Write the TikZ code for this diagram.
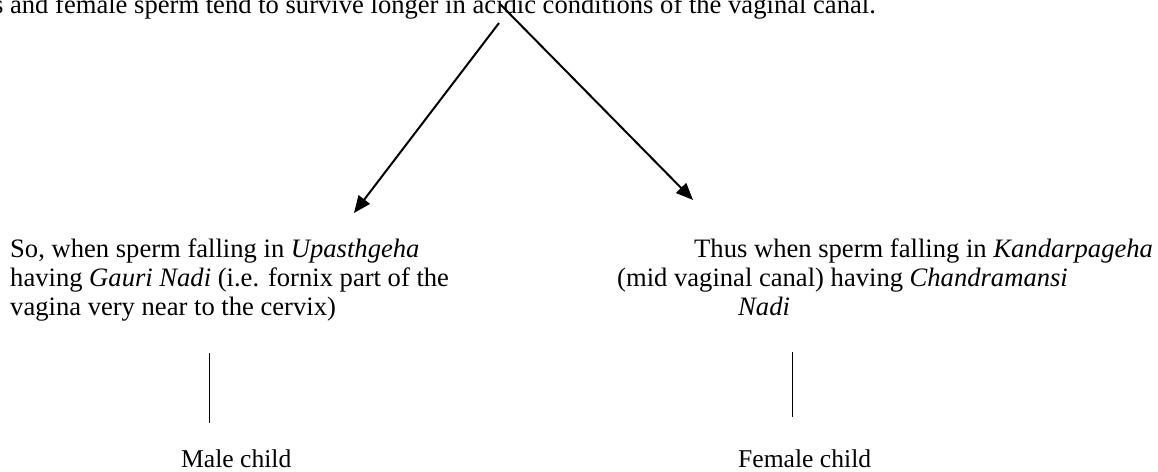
\documentclass[tikz,border=0pt]{standalone}
\usepackage{fontspec}
\setmainfont{Liberation Serif}
\usetikzlibrary{arrows.meta}
\tikzset{
  txt/.style={inner sep=0pt, anchor=base west, font=\fontsize{26.6}{29}\selectfont},
  kid/.style={txt, font=\fontsize{25.6}{29}\selectfont},
  arr/.style={line width=2pt, -{Triangle[length=17pt,width=14pt]}},
  link/.style={line width=0.8pt}
}
\begin{document}
\begin{tikzpicture}[x=1pt,y=-1pt]
\useasboundingbox (0,0) rectangle (1158,471);
\node[txt, anchor=base east] (acid) at (876,13){s and female sperm tend to survive longer in acidic conditions of the vaginal canal.};
\coordinate (splitL) at (499,23);
\coordinate (splitR) at (500,4);
\coordinate (tipL) at (354,213);
\coordinate (tipR) at (693,200);
\draw[arr](splitL) -- (tipL);
\draw[arr](splitR) -- (tipR);
% left branch
\node[txt] (upa1) at (10,257){So, when sperm falling in \textit{Upasthgeha}};
\node[txt] (upa2) at (10,286){having \textit{Gauri Nadi} (i.e. fornix part of the};
\node[txt] (upa3) at (10,315){vagina very near to the cervix)};
% right branch
\node[txt] (kan1) at (694,257){Thus when sperm falling in \textit{Kandarpageha}};
\node[txt] (kan2) at (617,286){(mid vaginal canal) having \textit{Chandramansi}};
\node[txt] (kan3) at (738,315){\textit{Nadi}};
% children
\node[kid] (male) at (181,467){Male child};
\node[kid] (female) at (738,467){Female child};
\coordinate (maleTop) at (209,353);
\coordinate (maleBot) at (209,423);
\coordinate (femTop) at (792,352);
\coordinate (femBot) at (792,417);
\draw[link](maleTop) -- (maleBot);
\draw[link](femTop) -- (femBot);
\end{tikzpicture}
\end{document}
